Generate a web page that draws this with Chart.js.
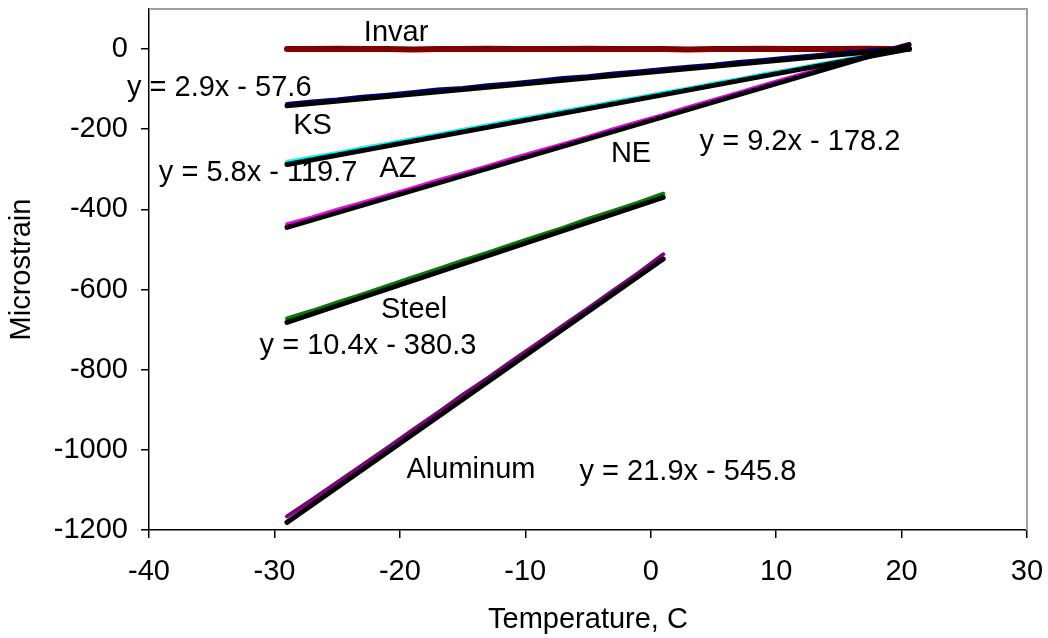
<!DOCTYPE html>
<html>
<head>
<meta charset="utf-8">
<script src="https://cdn.jsdelivr.net/npm/chart.js@4/dist/chart.umd.min.js"></script>
<style>
  html, body { margin: 0; padding: 0; background: #fff; }
  #wrap { width: 1048px; height: 638px; }
</style>
</head>
<body>
<div id="wrap"><canvas id="c" width="1048" height="638"></canvas></div>
<script>
// Temperature sweep (deg C) for the measured strain records
const tempLong  = [-29,-27,-25,-23,-21,-19,-17,-15,-13,-11,-9,-7,-5,-3,-1,1,3,5,7,9,11,13,15,17,19,20.6];
const tempShort = [-29,-27,-25,-23,-21,-19,-17,-15,-13,-11,-9,-7,-5,-3,-1,1];

// Measured microstrain per material
const invarStrain = [0,0,1,0,0,-1,0,0,1,0,0,0,1,0,0,0,-1,0,0,1,0,0,0,1,0,0];
const ksStrain    = [-137,-131,-126,-119,-114,-108,-101,-97,-90,-85,-79,-72,-68,-61,-56,-50,-44,-39,-32,-27,-21,-16,-10,-4,1,5];
const azStrain    = [-281,-270,-259,-247,-236,-224,-213,-201,-190,-178,-167,-155,-144,-132,-121,-109,-98,-86,-75,-63,-52,-40,-29,-18,-6,2];
const neStrain    = [-437,-420,-401,-383,-365,-347,-328,-310,-292,-273,-255,-237,-219,-200,-182,-164,-145,-127,-109,-90,-72,-54,-36,-17,0,13];
const steelStrain = [-672,-653,-632,-612,-591,-570,-549,-528,-508,-487,-466,-446,-424,-404,-383,-361];
const alumStrain  = [-1166,-1124,-1081,-1038,-995,-951,-908,-863,-821,-777,-734,-690,-647,-603,-559,-512];

// Linear fits: slope, intercept and fitted temperature range
const fitNames      = ['KS', 'AZ', 'NE', 'Steel', 'Aluminum'];
const fitSlopes     = [2.9, 5.8, 9.2, 10.4, 21.9];
const fitIntercepts = [-57.6, -119.7, -178.2, -380.3, -545.8];
const fitStart      = [-29, -29, -29, -29, -29];
const fitEnd        = [20.6, 20.6, 20.6, 1, 1];

// Axis ticks
const xTicks = [-40, -30, -20, -10, 0, 10, 20, 30];
const yTicks = [-1200, -1000, -800, -600, -400, -200, 0];

const FONT = "'Liberation Sans', Arial, sans-serif";

function pts(xs, ys) { return xs.map((x, i) => ({ x: x, y: ys[i] })); }
function fmt(v) { return v.toFixed(1); }

const rawSets = [
  { label: 'Invar',    xs: tempLong,  ys: invarStrain, color: '#800000', width: 6, order: 3 },
  { label: 'KS',       xs: tempLong,  ys: ksStrain,    color: '#000080', width: 4, order: 2 },
  { label: 'AZ',       xs: tempLong,  ys: azStrain,    color: '#00ffff', width: 4, order: 2 },
  { label: 'NE',       xs: tempLong,  ys: neStrain,    color: '#ff00ff', width: 4, order: 2 },
  { label: 'Steel',    xs: tempShort, ys: steelStrain, color: '#008000', width: 4, order: 2 },
  { label: 'Aluminum', xs: tempShort, ys: alumStrain,  color: '#800080', width: 4, order: 2 }
];

const datasets = rawSets.map(s => ({
  label: s.label,
  data: pts(s.xs, s.ys),
  borderColor: s.color,
  borderWidth: s.width,
  pointRadius: 0,
  tension: 0,
  borderCapStyle: 'round',
  order: s.order
}));

fitNames.forEach((n, i) => {
  const x0 = fitStart[i], x1 = fitEnd[i];
  datasets.push({
    label: n + ' fit',
    data: [
      { x: x0, y: fitSlopes[i] * x0 + fitIntercepts[i] },
      { x: x1, y: fitSlopes[i] * x1 + fitIntercepts[i] }
    ],
    borderColor: '#000',
    borderWidth: 5,
    pointRadius: 0,
    borderCapStyle: 'round',
    order: 1
  });
});

// Text placed in data coordinates (deg C, microstrain)
const eqText = i => 'y = ' + fmt(fitSlopes[i]) + 'x - ' + fmt(-fitIntercepts[i]);
const notes = [
  { text: 'Invar',    x: -20.3,  y: 40 },
  { text: eqText(0),  x: -34.4,  y: -96 },
  { text: 'KS',       x: -26.96, y: -191 },
  { text: eqText(1),  x: -31.3,  y: -308 },
  { text: 'AZ',       x: -20.15, y: -298 },
  { text: 'NE',       x: -1.57,  y: -262 },
  { text: eqText(2),  x: 11.9,   y: -231 },
  { text: 'Steel',    x: -18.87, y: -651 },
  { text: eqText(3),  x: -22.54, y: -740 },
  { text: 'Aluminum', x: -14.33, y: -1050 },
  { text: eqText(4),  x: 2.97,   y: -1056 }
];

const framePlugin = {
  id: 'frame',
  beforeDatasetsDraw(chart) {
    const { ctx, chartArea: a } = chart;
    ctx.save();
    ctx.strokeStyle = '#a0a0a0';
    ctx.lineWidth = 2;
    ctx.beginPath();
    ctx.moveTo(a.left, a.top);
    ctx.lineTo(a.right, a.top);
    ctx.lineTo(a.right, a.bottom);
    ctx.stroke();
    ctx.restore();
  }
};

const notesPlugin = {
  id: 'notes',
  afterDatasetsDraw(chart) {
    const { ctx, scales } = chart;
    ctx.save();
    ctx.fillStyle = '#000';
    ctx.font = '29px ' + FONT;
    ctx.textAlign = 'center';
    ctx.textBaseline = 'middle';
    notes.forEach(n => {
      ctx.fillText(n.text, scales.x.getPixelForValue(n.x), scales.y.getPixelForValue(n.y));
    });
    ctx.restore();
  }
};

new Chart(document.getElementById('c'), {
  type: 'line',
  data: { datasets: datasets },
  plugins: [framePlugin, notesPlugin],
  options: {
    responsive: false,
    animation: false,
    devicePixelRatio: 1,
    layout: { padding: { top: 9, right: 21, left: 0, bottom: 0 } },
    plugins: { legend: { display: false }, tooltip: { enabled: false } },
    scales: {
      x: {
        type: 'linear',
        min: xTicks[0],
        max: xTicks[xTicks.length - 1],
        afterBuildTicks: s => { s.ticks = xTicks.map(v => ({ value: v })); },
        afterFit: s => { s.height = 108; s.paddingLeft = 0; s.paddingRight = 0; },
        grid: { drawOnChartArea: false, drawTicks: true, tickLength: 8, color: '#000', lineWidth: 1.5 },
        border: { display: true, color: '#000', width: 1.5 },
        ticks: { color: '#000', padding: 17, maxRotation: 0, callback: v => String(v), font: { family: FONT, size: 29 } },
        title: { display: true, text: 'Temperature, C', color: '#000', padding: { top: 0, bottom: 0.6 }, font: { family: FONT, size: 29 } }
      },
      y: {
        type: 'linear',
        min: -1200,
        max: 100,
        afterBuildTicks: s => { s.ticks = yTicks.map(v => ({ value: v })); },
        afterFit: s => { s.width = 149; s.paddingTop = 0; s.paddingBottom = 0; },
        grid: { drawOnChartArea: false, drawTicks: true, tickLength: 8, color: '#000', lineWidth: 1.5 },
        border: { display: true, color: '#000', width: 1.5 },
        ticks: { color: '#000', padding: 13, callback: v => String(v), font: { family: FONT, size: 29 } },
        title: { display: true, text: 'Microstrain', color: '#000', padding: { top: 4.6, bottom: 0 }, font: { family: FONT, size: 29 } }
      }
    }
  }
});
</script>
</body>
</html>
